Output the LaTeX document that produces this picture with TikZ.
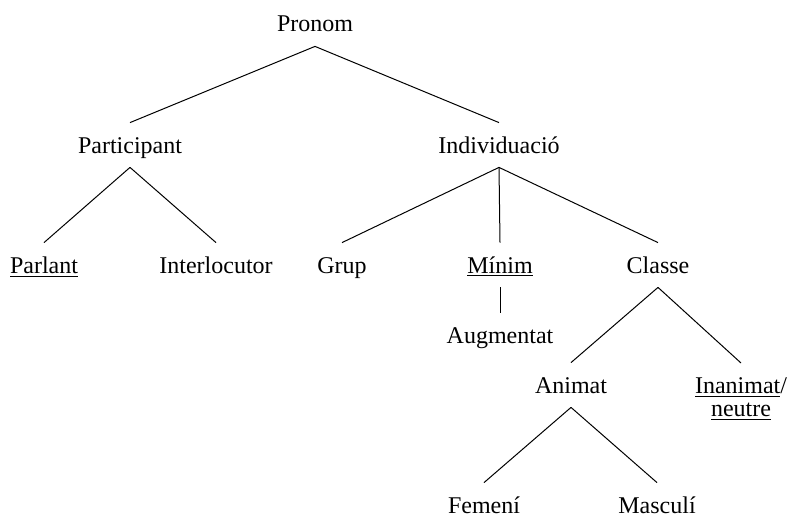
\documentclass[tikz,border=0pt]{standalone}
\usepackage{fontspec}
\setmainfont{Liberation Serif}
\usepackage{tikz}

\begin{document}
\begin{tikzpicture}[x=0.5pt, y=-0.5pt,
    cat/.style={font=\fontsize{12}{11.5}\selectfont, anchor=base, inner xsep=0pt, inner ysep=7pt, text height=8pt, text depth=0pt},
    catpair/.style={font=\fontsize{12}{11.5}\selectfont, anchor=north, align=center, inner xsep=0pt, inner ysep=7pt},
    branch/.style={line width=0.5pt}]
    \useasboundingbox (0,0) rectangle (791,519);

    % Root and first split
    \node[cat] (pronom) at (315,32) {Pronom};
    \node[cat] (partic) at (130,153) {Participant};
    \node[cat] (indiv) at (499,153) {Individuació};

    % Second level
    \node[cat] (parlant) at (44,273) {\underline{Parlant}};
    \node[cat] (interl) at (216,273) {Interlocutor};
    \node[cat] (grup) at (342,273) {Grup};
    \node[cat] (minim) at (500,273) {\underline{Mínim}};
    \node[cat] (classe) at (658,273) {Classe};
    \node[cat] (augm) at (500,343) {Augmentat};

    % Class subtree
    \node[cat] (animat) at (571,393) {Animat};
    \node[catpair] (inanim) at (741,363) {\underline{Inanimat}/\\\underline{neutre}};
    \node[cat] (femeni) at (484,513) {Femení};
    \node[cat] (masculi) at (657,513) {Masculí};

    % Draw the branches
    \draw[branch] (pronom.south) -- (partic.north);
    \draw[branch] (pronom.south) -- (indiv.north);
    \draw[branch] (partic.south) -- (parlant.north);
    \draw[branch] (partic.south) -- (interl.north);
    \draw[branch] (indiv.south) -- (grup.north);
    \draw[branch] (indiv.south) -- (minim.north);
    \draw[branch] (indiv.south) -- (classe.north);
    \draw[branch] (minim.south) -- (augm.north);
    \draw[branch] (classe.south) -- (animat.north);
    \draw[branch] (classe.south) -- (inanim.north);
    \draw[branch] (animat.south) -- (femeni.north);
    \draw[branch] (animat.south) -- (masculi.north);
\end{tikzpicture}
\end{document}
